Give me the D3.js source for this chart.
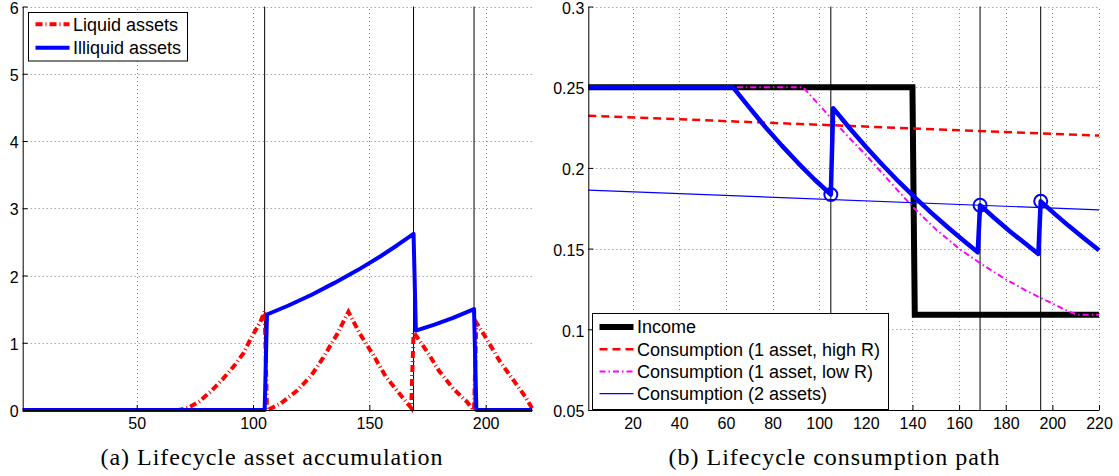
<!DOCTYPE html>
<html>
<head>
<meta charset="utf-8">
<script src="https://cdn.jsdelivr.net/npm/d3@7"></script>
<style>
  body { margin: 0; background: #fff; }
  svg { display: block; }
  .tick text { font-family: "Liberation Sans", Arial, sans-serif; font-size: 16px; fill: #000; }
  .legend text { font-family: "Liberation Sans", Arial, sans-serif; font-size: 18px; fill: #000; }
  .caption { font-family: "Liberation Serif", "Times New Roman", serif; font-size: 24px; fill: #000; letter-spacing: 1px; }
</style>
</head>
<body>
<svg id="chart" width="1119" height="476"></svg>
<script>
// ---- Panel (a): asset holdings over the life cycle ----
const liquidT = [1, 68, 72, 77, 82, 87, 92, 96, 99, 103, 105, 106, 107, 112, 119, 125, 130, 136, 141,
                 146, 152, 157, 163, 168, 169, 175, 180, 186, 192, 194, 195, 196, 200, 206, 212, 217, 220];
const liquidV = [0, 0, 0.03, 0.13, 0.28, 0.46, 0.66, 0.85, 1.06, 1.30, 1.47, 0, 0.01, 0.10, 0.29, 0.51, 0.77, 1.12, 1.46,
                 1.13, 0.80, 0.50, 0.24, 0.03, 1.16, 0.86, 0.58, 0.32, 0.12, 0.03, 0, 1.30, 1.08, 0.73, 0.44, 0.20, 0.02];

const illiquidT = [1, 105, 106, 115, 125, 135, 145, 155, 162, 169, 170, 178, 186, 195, 196, 220];
const illiquidV = [0, 0, 1.42, 1.55, 1.71, 1.89, 2.08, 2.29, 2.45, 2.62, 1.18, 1.27, 1.37, 1.50, 0, 0];

const assetXTicks = [50, 100, 150, 200];
const assetYTicks = [0, 1, 2, 3, 4, 5, 6];
const assetYLabels = ["0", "1", "2", "3", "4", "5", "6"];

// ---- Panel (b): consumption and income ----
const incomeT = [1, 140, 141, 220];
const incomeV = [0.25, 0.25, 0.109, 0.109];

const highRT = [1, 220];
const highRV = [0.2323, 0.2200];

const lowRT = [1, 93, 95, 100, 105, 112, 120, 130, 140, 150, 160, 170, 180, 190, 200, 207, 211, 220];
const lowRV = [0.25, 0.25, 0.247, 0.239, 0.231, 0.220, 0.208, 0.192, 0.176, 0.162, 0.150, 0.140, 0.131, 0.123, 0.116, 0.111, 0.109, 0.109];

const twoThinT = [1, 220];
const twoThinV = [0.1862, 0.1740];

const twoThickT = [1, 63, 70, 77, 84, 91, 98, 105, 106, 113, 120, 127, 134, 141, 148, 155, 162, 168,
                   169, 175, 182, 188, 194, 195, 201, 207, 213, 220];
const twoThickV = [0.25, 0.25, 0.2375, 0.2252, 0.2138, 0.2030, 0.1928, 0.1835, 0.237, 0.2247, 0.2131, 0.2021, 0.1916, 0.1817, 0.1723, 0.1634, 0.1549, 0.1477,
                   0.1769, 0.1691, 0.1604, 0.1536, 0.1467, 0.1793, 0.1715, 0.1641, 0.1571, 0.149];

const adjustT = [105, 169, 195];
const adjustV = [0.1835, 0.1769, 0.1793];

const eventTimes = [105, 169, 195];

const consXTicks = [20, 40, 60, 80, 100, 120, 140, 160, 180, 200, 220];
const consYTicks = [0.05, 0.1, 0.15, 0.2, 0.25, 0.3];
const consYLabels = ["0.05", "0.1", "0.15", "0.2", "0.25", "0.3"];

const captions = ["(a) Lifecycle asset accumulation", "(b) Lifecycle consumption path"];

// ---- drawing ----
const svg = d3.select("#chart");
const TOP = 6.5, BOTTOM = 410;

function panel(left, right, yDomain, xTicks, yTicks, yLabels) {
  const x = d3.scaleLinear().domain([1, 220]).range([left, right]);
  const y = d3.scaleLinear().domain(yDomain).range([BOTTOM, TOP]);
  const g = svg.append("g");

  // dotted grid
  const grid = g.append("g").attr("stroke", "#555").attr("stroke-width", 1)
    .attr("stroke-dasharray", "1,3").attr("opacity", 0.75);
  grid.selectAll("line.v").data(xTicks).join("line")
    .attr("x1", d => Math.round(x(d)) + 0.5).attr("x2", d => Math.round(x(d)) + 0.5)
    .attr("y1", BOTTOM).attr("y2", TOP);
  grid.selectAll("line.h").data(yTicks.filter(d => d !== yDomain[0])).join("line")
    .attr("y1", d => Math.round(y(d)) + 0.5).attr("y2", d => Math.round(y(d)) + 0.5)
    .attr("x1", left).attr("x2", right);

  // event markers
  g.append("g").selectAll("line").data(eventTimes).join("line")
    .attr("x1", d => x(d)).attr("x2", d => x(d))
    .attr("y1", TOP).attr("y2", BOTTOM)
    .attr("stroke", "#000").attr("stroke-width", 1);

  // axes
  const xAxis = d3.axisBottom(x).tickValues(xTicks).tickSizeInner(-5).tickSizeOuter(0)
    .tickPadding(8).tickFormat(d3.format("d"));
  const yAxis = d3.axisLeft(y).tickValues(yTicks).tickSizeInner(-5).tickSizeOuter(0)
    .tickPadding(4).tickFormat((d, i) => yLabels[i]);
  const ga = g.append("g").attr("class", "axes");
  ga.append("g").attr("transform", `translate(0,${BOTTOM})`).call(xAxis);
  ga.append("g").attr("transform", `translate(${left},0)`).call(yAxis)
    .selectAll(".tick text").attr("dy", "0.42em");
  ga.selectAll(".domain, .tick line").attr("stroke", "#000").attr("stroke-width", 1);

  return { x, y, g, ga };
}

function path(p, T, V, style) {
  const line = d3.line().x(d => p.x(d[0])).y(d => p.y(d[1]));
  const el = p.g.append("path").datum(d3.zip(T, V)).attr("d", line).attr("fill", "none");
  Object.entries(style).forEach(([k, v]) => el.attr(k, v));
  return el;
}

// Panel (a)
const pa = panel(22.7, 532.2, [0, 6], assetXTicks, assetYTicks, assetYLabels);
path(pa, liquidT, liquidV, { stroke: "#ff0000", "stroke-width": 4, "stroke-dasharray": "7,3,1,3" });
path(pa, illiquidT, illiquidV, { stroke: "#0000ff", "stroke-width": 4, "stroke-linejoin": "round" });
pa.g.node().appendChild(pa.ga.node());

// Panel (b)
const pb = panel(588.3, 1099, [0.05, 0.3], consXTicks, consYTicks, consYLabels);
path(pb, incomeT, incomeV, { stroke: "#000", "stroke-width": 6, "stroke-linejoin": "miter" });
path(pb, highRT, highRV, { stroke: "#ff0000", "stroke-width": 2.5, "stroke-dasharray": "8,5" });
path(pb, lowRT, lowRV, { stroke: "#ff00ff", "stroke-width": 2, "stroke-dasharray": "6,3,1.5,3" });
path(pb, twoThinT, twoThinV, { stroke: "#0000ff", "stroke-width": 1.2 });
path(pb, twoThickT, twoThickV, { stroke: "#0000ff", "stroke-width": 4.5, "stroke-linejoin": "round" });
pb.g.append("g").selectAll("circle").data(d3.zip(adjustT, adjustV)).join("circle")
  .attr("cx", d => pb.x(d[0])).attr("cy", d => pb.y(d[1])).attr("r", 6.5)
  .attr("fill", "none").attr("stroke", "#0000ff").attr("stroke-width", 2);
pb.g.node().appendChild(pb.ga.node());

// Legends
function legend(box, rowY, entries) {
  const lg = svg.append("g").attr("class", "legend");
  lg.append("rect").attr("x", box[0]).attr("y", box[1]).attr("width", box[2]).attr("height", box[3])
    .attr("fill", "#fff").attr("stroke", "#000").attr("stroke-width", 1);
  entries.forEach((e, i) => {
    const yy = rowY[i];
    const ln = lg.append("line").attr("x1", box[0] + 7).attr("x2", box[0] + 41)
      .attr("y1", yy).attr("y2", yy);
    Object.entries(e.style).forEach(([k, v]) => ln.attr(k, v));
    lg.append("text").attr("x", box[0] + 44.5).attr("y", yy).attr("dy", "0.35em").text(e.label);
  });
}

const assetNames = ["Liquid assets", "Illiquid assets"];
legend([28.5, 12.5, 159, 48.5], [24.3, 47.7], [
  { label: assetNames[0], style: { stroke: "#ff0000", "stroke-width": 4, "stroke-dasharray": "7,3,1,3" } },
  { label: assetNames[1], style: { stroke: "#0000ff", "stroke-width": 4 } }
]);

const consNames = ["Income", "Consumption (1 asset, high R)", "Consumption (1 asset, low R)", "Consumption (2 assets)"];
legend([592.5, 313.5, 296, 96], [327, 349.2, 371.4, 393.6], [
  { label: consNames[0], style: { stroke: "#000", "stroke-width": 6 } },
  { label: consNames[1], style: { stroke: "#ff0000", "stroke-width": 2.5, "stroke-dasharray": "8,5" } },
  { label: consNames[2], style: { stroke: "#ff00ff", "stroke-width": 2, "stroke-dasharray": "6,3,1.5,3" } },
  { label: consNames[3], style: { stroke: "#0000ff", "stroke-width": 1.2 } }
]);

// Captions
svg.selectAll("text.caption").data(captions).join("text")
  .attr("class", "caption")
  .attr("x", (d, i) => i === 0 ? 272 : 834.5)
  .attr("y", 465)
  .attr("text-anchor", "middle")
  .text(d => d);
</script>
</body>
</html>
